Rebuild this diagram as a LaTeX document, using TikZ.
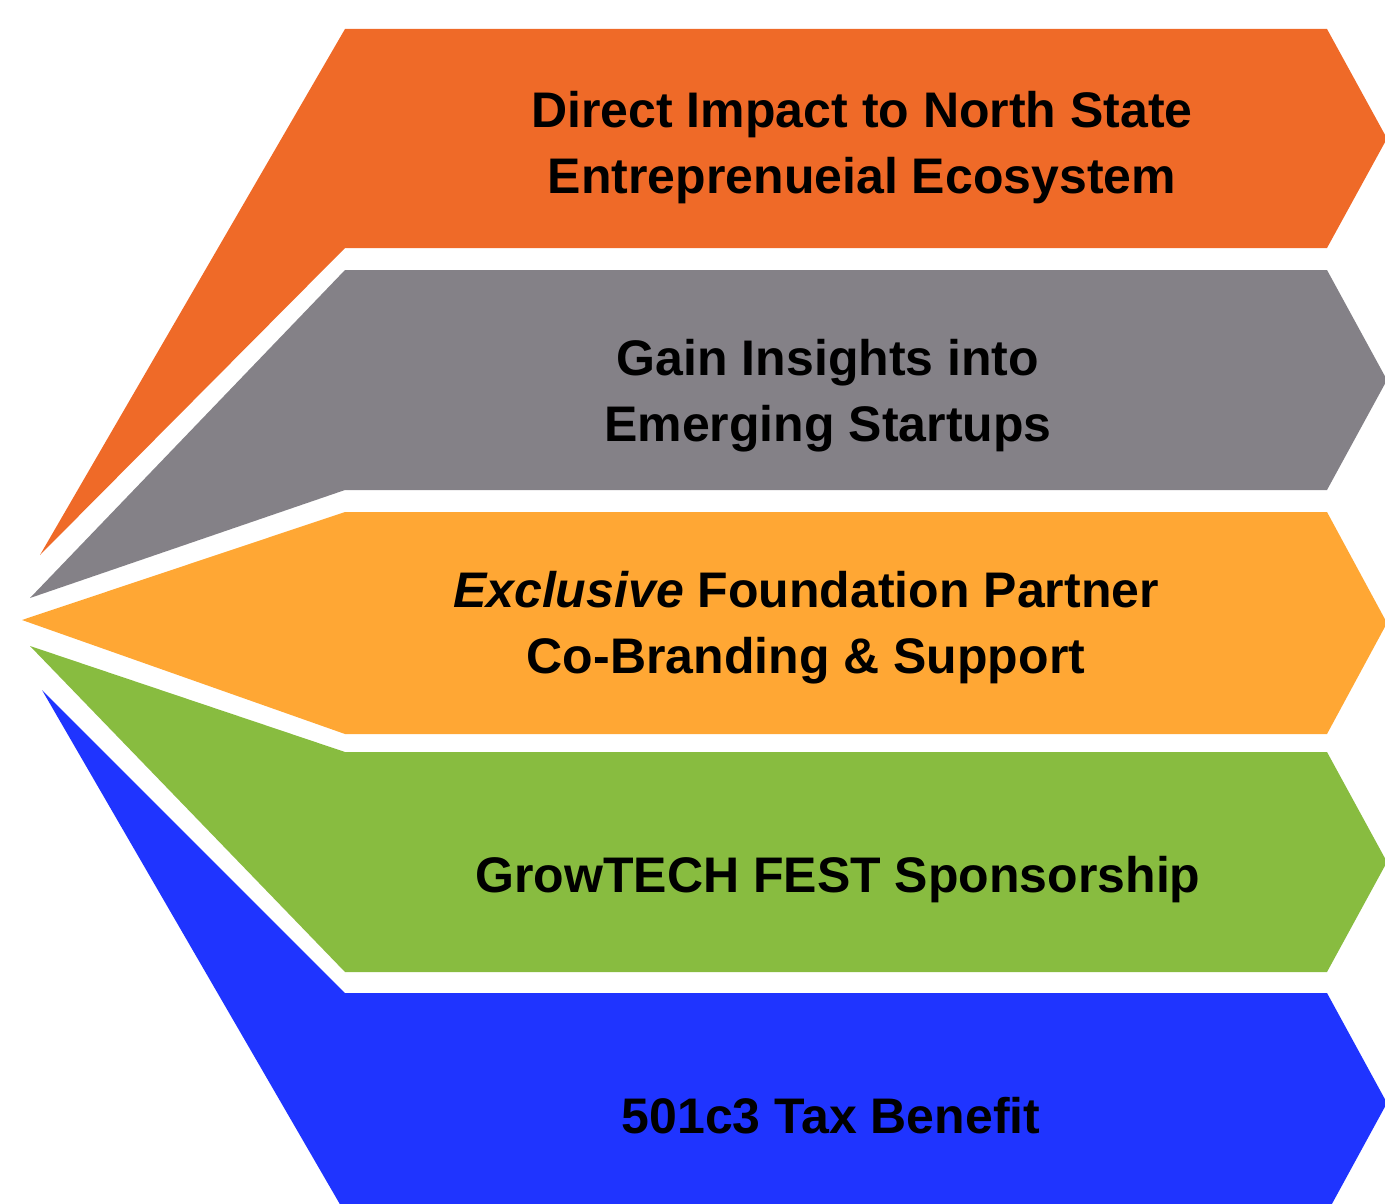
\documentclass[tikz,border=0pt]{standalone}
\usepackage{fontspec}
\setmainfont{Liberation Sans}
\usetikzlibrary{positioning}
\definecolor{myorange}{RGB}{239,106,40}
\definecolor{mygray}{RGB}{132,129,135}
\definecolor{mylight}{RGB}{255,167,52}
\definecolor{mygreen}{RGB}{136,188,64}
\definecolor{myblue}{RGB}{31,52,255}
\tikzset{bandtext/.style={font=\fontsize{50}{66}\selectfont\bfseries, align=center, text=black, inner sep=0pt}}

\begin{document}
\begin{tikzpicture}[x=1pt,y=-1pt]
\useasboundingbox (0,0) rectangle (1385,1204);
% bands: top / bottom / left tip / colour
\foreach \top/\bot/\tx/\ty/\col in {29/248/40/555/myorange, 270/490/30/598/mygray, 512/734/22/620/mylight, 752/972/30/646/mygreen, 993/1213/42/690/myblue}
  \fill[\col] (\tx,\ty) -- (345,\top) -- (1327,\top) -- (1387,{(\top+\bot)/2}) -- (1327,\bot) -- (345,\bot) -- cycle;
% labels
\node[bandtext] (impact) at (862,148) {Direct Impact to North State\\Entreprenueial Ecosystem};
\node[bandtext] (insights) at (828,396) {Gain Insights into\\Emerging Startups};
\node[bandtext] (partner) at (806,628) {\textit{Exclusive} Foundation Partner\\Co-Branding \& Support};
\node[bandtext] (fest) at (838,880) {GrowTECH FEST Sponsorship};
\node[bandtext] (tax) at (831,1116) {501c3 Tax Benefit};
\end{tikzpicture}
\end{document}
